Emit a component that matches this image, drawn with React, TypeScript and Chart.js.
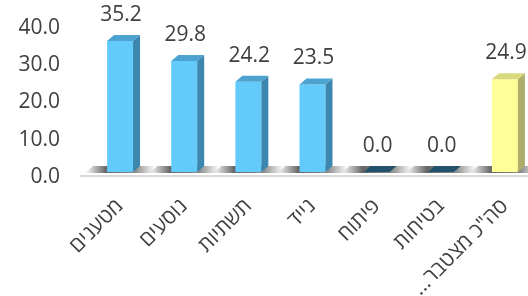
import React, { useEffect, useRef } from "react";
import { Chart, registerables } from "chart.js";

Chart.register(...registerables);

const categories = ["מטענים", "נוסעים", "תשתיות", "נייד", "פיתוח", "בטיחות", 'סה"כ מצטבר...'];
const values = [35.2, 29.8, 24.2, 23.5, 0.0, 0.0, 24.9];
const yTicks = [0, 10, 20, 30, 40];

const FONT = "'Open Sans', 'Liberation Sans', 'DejaVu Sans', sans-serif";
const TEXT = "#404040";
const blue = { front: "#63CBFC", side: "#3C87B0", top: "#4CA3D0", zero: "#23506A" };
const yellow = { front: "#FFFF99", side: "#AEAE6A", top: "#D8D87E", zero: "#6B6B3A" };
const colorsFor = (i: number) => (i === values.length - 1 ? yellow : blue);

const DX = 7;
const DY = -6;

const bar3d = {
  id: "bar3d",
  beforeDatasetsDraw(chart: any) {
    const ctx = chart.ctx;
    const area = chart.chartArea;
    ctx.save();
    ctx.fillStyle = "#D9D9D9";
    ctx.fillRect(80, area.bottom + 3, chart.width - 80, 2);
    const meta = chart.getDatasetMeta(0);
    meta.data.forEach((el: any) => {
      const w = el.width;
      const left = el.x - w / 2;
      const right = el.x + w / 2;
      const b = el.base;
      const x0 = left - 22;
      const x1 = right + 22;
      const g = ctx.createLinearGradient(x0, 0, x1, 0);
      g.addColorStop(0, "rgba(0,0,0,0)");
      g.addColorStop(0.3, "rgba(0,0,0,0.6)");
      g.addColorStop(0.72, "rgba(0,0,0,0.45)");
      g.addColorStop(1, "rgba(0,0,0,0)");
      ctx.fillStyle = g;
      ctx.beginPath();
      ctx.moveTo(x0, b + 1);
      ctx.lineTo(x0 + 8, b - 6);
      ctx.lineTo(x1 + 4, b - 6);
      ctx.lineTo(x1 - 4, b + 1);
      ctx.closePath();
      ctx.fill();
    });
    ctx.restore();
  },
  afterDatasetsDraw(chart: any) {
    const ctx = chart.ctx;
    const meta = chart.getDatasetMeta(0);
    ctx.save();
    meta.data.forEach((el: any, i: number) => {
      const c = colorsFor(i);
      const w = el.width;
      const left = el.x - w / 2;
      const right = el.x + w / 2;
      const top = el.y;
      const bottom = el.base;
      const zero = Math.abs(bottom - top) < 1;
      if (!zero) {
        ctx.fillStyle = c.side;
        ctx.beginPath();
        ctx.moveTo(right, top);
        ctx.lineTo(right + DX, top + DY);
        ctx.lineTo(right + DX, bottom + DY);
        ctx.lineTo(right, bottom);
        ctx.closePath();
        ctx.fill();
      }
      ctx.fillStyle = zero ? c.zero : c.top;
      ctx.beginPath();
      ctx.moveTo(left, top);
      ctx.lineTo(left + DX, top + DY);
      ctx.lineTo(right + DX, top + DY);
      ctx.lineTo(right, top);
      ctx.closePath();
      ctx.fill();
      ctx.fillStyle = TEXT;
      ctx.font = "21px " + FONT;
      ctx.textAlign = "center";
      ctx.textBaseline = "middle";
      ctx.fillText(values[i].toFixed(1), el.x + 1, top - 26);
    });
    ctx.restore();
  },
};

const zeroPad = (s: any) => {
  s.paddingLeft = 0;
  s.paddingRight = 0;
  s.paddingTop = 0;
  s.paddingBottom = 0;
};

export default function App() {
  const ref = useRef<HTMLCanvasElement | null>(null);
  useEffect(() => {
    if (!ref.current) return;
    const chart = new Chart(ref.current, {
      type: "bar",
      data: {
        datasets: [
          {
            data: values.map((v, i) => ({ x: i, y: v })),
            backgroundColor: values.map((_, i) => colorsFor(i).front),
            borderWidth: 0,
            barPercentage: 0.405,
            categoryPercentage: 1,
          },
        ],
      },
      options: {
        responsive: false,
        animation: false,
        devicePixelRatio: 1,
        layout: { padding: { top: 23, right: 0, left: 0, bottom: 0 } },
        plugins: { legend: { display: false }, tooltip: { enabled: false } },
        scales: {
          x: {
            type: "linear",
            offset: false,
            min: -0.5,
            max: 6.36,
            grid: { display: false, drawTicks: false, offset: false },
            border: { display: false },
            afterBuildTicks: (s: any) => {
              s.ticks = categories.map((_, i) => ({ value: i }));
            },
            afterFit: (s: any) => {
              s.height = 124;
              zeroPad(s);
            },
            ticks: {
              autoSkip: false,
              minRotation: 45,
              maxRotation: 45,
              padding: 22,
              color: TEXT,
              font: { family: FONT, size: 21 },
              callback: (v: any) => categories[v as number],
            },
          },
          y: {
            min: 0,
            max: 40,
            grid: { display: false, drawTicks: false },
            border: { display: false },
            afterBuildTicks: (s: any) => {
              s.ticks = yTicks.map((v) => ({ value: v }));
            },
            afterFit: (s: any) => {
              s.width = 88;
              zeroPad(s);
            },
            ticks: {
              padding: 28,
              labelOffset: 5,
              color: TEXT,
              font: { family: FONT, size: 21 },
              callback: (v: any) => Number(v).toFixed(1),
            },
          },
        },
      },
      plugins: [bar3d],
    });
    return () => chart.destroy();
  }, []);
  return (
    <div style={{ position: "absolute", left: 0, top: 0, width: 528, height: 296, background: "#fff" }}>
      <canvas ref={ref} dir="rtl" width={528} height={296} />
    </div>
  );
}
